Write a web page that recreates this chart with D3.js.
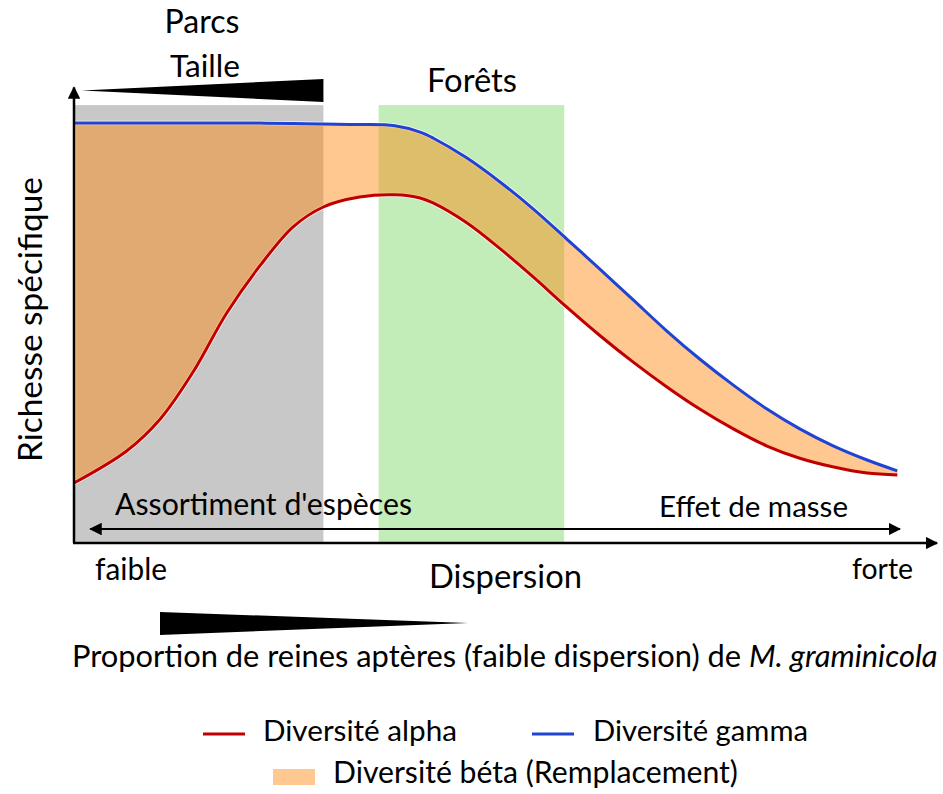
<!DOCTYPE html>
<html>
<head>
<meta charset="utf-8">
<script src="https://cdn.jsdelivr.net/npm/d3@7"></script>
<style>
  html, body { margin: 0; padding: 0; background: #fff; }
  svg { display: block; font-family: Lato, "Open Sans", sans-serif; }
</style>
</head>
<body>
<svg id="chart" width="943" height="794"></svg>
<script>
// Dispersion (0 = faible, 10 = forte) along the x axis
const dispersion = [0, 0.61, 1.00, 1.38, 1.77, 2.16, 2.54, 2.89, 3.31, 3.72, 4.01, 4.16, 4.55,
                    4.94, 5.32, 5.71, 6.10, 6.48, 6.87, 7.25, 7.64, 8.03, 8.41, 8.79, 9.19, 9.54];
// Species richness, arbitrary units (0–10)
const alphaDiv = [1.33, 2.04, 2.75, 3.79, 5.10, 6.16, 7.01, 7.45, 7.67, 7.72, 7.65, 7.54, 7.10,
                  6.52, 5.90, 5.23, 4.59, 4.01, 3.46, 2.97, 2.53, 2.15, 1.88, 1.69, 1.55, 1.51];
const gammaDiv = [9.31, 9.31, 9.31, 9.31, 9.31, 9.31, 9.30, 9.29, 9.28, 9.25, 9.11, 8.98, 8.54,
                  8.00, 7.41, 6.74, 6.06, 5.39, 4.70, 4.08, 3.50, 2.97, 2.53, 2.16, 1.84, 1.60];

// Shaded habitat zones on the dispersion axis
const zoneNames = ["Parcs", "Forêts"];
const zoneStart = [0, 3.53];
const zoneEnd   = [2.89, 5.68];
const zoneTop   = 9.71;

const legendLabels = ["Diversité alpha", "Diversité gamma", "Diversité béta (Remplacement)"];

const svg = d3.select("#chart");

const x = d3.scaleLinear().domain([0, 10]).range([74, 937]);
const y = d3.scaleLinear().domain([0, 10]).range([543, 92]);

const RED = "#C00000", BLUE = "#1F44D4", GREY = "#C8C8C8", GREEN = "#C2EDB8";
const ORANGE = "#FF850B", ORANGE_OP = 0.45;

// Fit a text element to a given width by scaling its font size
function fit(sel, width) {
  const base = 26;
  sel.attr("font-size", base);
  const len = sel.node().getComputedTextLength();
  sel.attr("font-size", (base * width / len).toFixed(2));
  return sel;
}

// Zones
const zoneFill = [GREY, GREEN];
zoneNames.forEach((n, i) => {
  svg.append("rect")
    .attr("x", x(zoneStart[i]))
    .attr("y", y(zoneTop))
    .attr("width", x(zoneEnd[i]) - x(zoneStart[i]))
    .attr("height", y(0) - y(zoneTop))
    .attr("fill", zoneFill[i]);
});

const pts = dispersion.map((d, i) => ({ x: d, a: alphaDiv[i], g: gammaDiv[i] }));
const curve = d3.curveCatmullRom.alpha(0.5);

// Beta diversity band between alpha and gamma
const band = d3.area()
  .x(d => x(d.x))
  .y0(d => y(d.a))
  .y1(d => y(d.g))
  .curve(curve);

// thin white rim around the band
svg.append("path")
  .attr("d", band(pts))
  .attr("fill", "none")
  .attr("stroke", "#fff")
  .attr("stroke-width", 4.5)
  .attr("stroke-opacity", 0.9);

svg.append("path")
  .attr("d", band(pts))
  .attr("fill", ORANGE)
  .attr("fill-opacity", ORANGE_OP);

const lineA = d3.line().x(d => x(d.x)).y(d => y(d.a)).curve(curve);
const lineG = d3.line().x(d => x(d.x)).y(d => y(d.g)).curve(curve);

svg.append("path").attr("d", lineA(pts)).attr("fill", "none")
  .attr("stroke", RED).attr("stroke-width", 3);
svg.append("path").attr("d", lineG(pts)).attr("fill", "none")
  .attr("stroke", BLUE).attr("stroke-width", 3);

// Arrow markers
const defs = svg.append("defs");
defs.append("marker")
  .attr("id", "arrow")
  .attr("viewBox", "0 0 10 10")
  .attr("refX", 9).attr("refY", 5)
  .attr("markerWidth", 5).attr("markerHeight", 5)
  .attr("markerUnits", "strokeWidth")
  .attr("orient", "auto-start-reverse")
  .append("path").attr("d", "M0,0 L10,5 L0,10 z").attr("fill", "#000");

defs.append("marker")
  .attr("id", "arrowS")
  .attr("viewBox", "0 0 10 10")
  .attr("refX", 9).attr("refY", 5)
  .attr("markerWidth", 7).attr("markerHeight", 7)
  .attr("markerUnits", "strokeWidth")
  .attr("orient", "auto-start-reverse")
  .append("path").attr("d", "M0,0 L10,5 L0,10 z").attr("fill", "#000");

// Axes
svg.append("line")
  .attr("x1", x(0)).attr("y1", y(0)).attr("x2", x(0)).attr("y2", y(10.1))
  .attr("stroke", "#000").attr("stroke-width", 2.5)
  .attr("marker-end", "url(#arrow)");
svg.append("line")
  .attr("x1", x(0) - 1).attr("y1", y(0)).attr("x2", x(10)).attr("y2", y(0))
  .attr("stroke", "#000").attr("stroke-width", 2.5)
  .attr("marker-end", "url(#arrow)");

// Double-headed arrow: assortment vs mass effect
svg.append("line")
  .attr("x1", x(0.19)).attr("y1", y(0.31)).attr("x2", x(9.57)).attr("y2", y(0.31))
  .attr("stroke", "#000").attr("stroke-width", 1.8)
  .attr("marker-start", "url(#arrowS)")
  .attr("marker-end", "url(#arrowS)");

// Wedge: park size increasing toward the right
svg.append("path")
  .attr("d", `M${x(0.09)},90.5 L${x(zoneEnd[0])},79 L${x(zoneEnd[0])},102 Z`)
  .attr("fill", "#000");

// Wedge: proportion of apterous queens decreasing toward the right
svg.append("path")
  .attr("d", "M160,612 L160,635 L468,623 Z")
  .attr("fill", "#000");

// Text helpers
function label(txt, px, py, width, anchor) {
  const t = svg.append("text")
    .attr("x", px).attr("y", py)
    .attr("text-anchor", anchor || "start")
    .attr("fill", "#000")
    .text(txt);
  return fit(t, width);
}

label("Parcs", 202, 33, 75, "middle");
label("Taille", 205, 77, 70, "middle");
label("Forêts", 472, 92, 90, "middle");
label("Assortiment d'espèces", 115, 515, 297);
label("Effet de masse", 659, 517, 189);
label("faible", 95, 580, 72);
label("forte", 852, 579, 61);
label("Dispersion", 429, 588, 153);

// Y axis title
const yt = svg.append("text")
  .attr("transform", "translate(42,319.5) rotate(-90)")
  .attr("text-anchor", "middle")
  .text("Richesse spécifique");
fit(yt, 285);

// Caption with italic species name
const cap = svg.append("text").attr("x", 72).attr("y", 667);
cap.append("tspan").text("Proportion de reines aptères (faible dispersion) de ");
cap.append("tspan").attr("font-style", "italic").text("M. graminicola");
fit(cap, 866);

// Legend
svg.append("line").attr("x1", 203).attr("x2", 245).attr("y1", 734).attr("y2", 734)
  .attr("stroke", RED).attr("stroke-width", 3);
label(legendLabels[0], 263, 741, 194);
svg.append("line").attr("x1", 532).attr("x2", 574).attr("y1", 734).attr("y2", 734)
  .attr("stroke", BLUE).attr("stroke-width", 3);
label(legendLabels[1], 593, 741, 215);
svg.append("rect").attr("x", 273).attr("y", 769).attr("width", 42).attr("height", 16)
  .attr("fill", ORANGE).attr("fill-opacity", ORANGE_OP);
label(legendLabels[2], 333, 783, 405);
</script>
</body>
</html>
